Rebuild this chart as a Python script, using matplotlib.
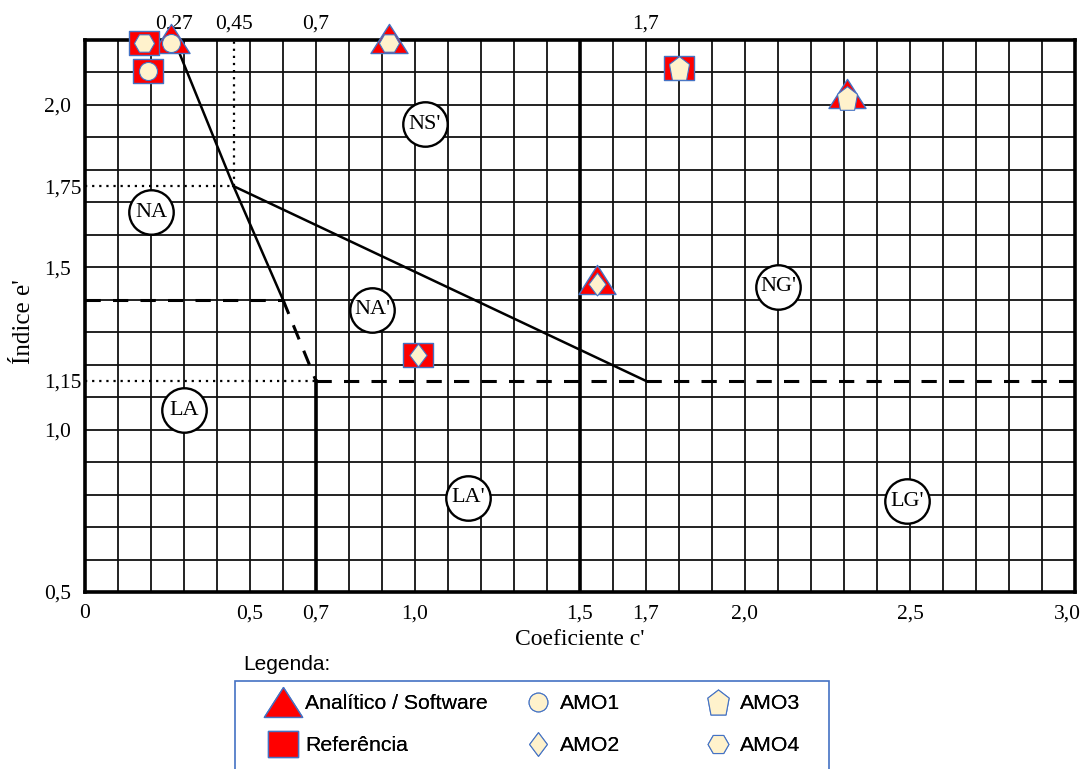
import numpy as np
import matplotlib
matplotlib.use("Agg")
import matplotlib.pyplot as plt
import matplotlib.path as mpath
import matplotlib.patches as mpatches
import matplotlib.transforms as mtrans
from matplotlib.lines import Line2D

# ---- data ----
samples = ['AMO1', 'AMO2', 'AMO3', 'AMO4']
ana_c = [0.26, 1.55, 2.31, 0.92]     # Analitico / Software
ana_e = [2.19, 1.45, 2.02, 2.19]
ref_c = [0.19, 1.01, 1.80, 0.18]     # Referencia
ref_e = [2.105, 1.23, 2.115, 2.19]

zone_names = ['NA', "NS'", "NA'", "NG'", 'LA', "LA'", "LG'"]
zone_c = [0.20, 1.03, 0.87, 2.10, 0.30, 1.16, 2.49]
zone_e = [1.67, 1.94, 1.37, 1.44, 1.06, 0.79, 0.78]

# zone boundaries
solid1_c, solid1_e = [0.27, 0.45, 0.6], [2.2, 1.75, 1.4]
solid2_c, solid2_e = [0.45, 1.7], [1.75, 1.15]
dash1_c, dash1_e = [0.0, 0.6], [1.4, 1.4]
dash2_c, dash2_e = [0.6, 0.7], [1.4, 1.15]
dash3_c, dash3_e = [0.7, 3.0], [1.15, 1.15]
vert1_c, vert1_e = [0.7, 0.7], [0.5, 1.15]
vert2_c, vert2_e = [1.5, 1.5], [0.5, 2.2]
dot1_c, dot1_e = [0.45, 0.45], [1.75, 2.2]
dot2_c, dot2_e = [0.0, 0.45], [1.75, 1.75]
dot3_c, dot3_e = [0.0, 0.7], [1.15, 1.15]

xticks = [0, 0.5, 0.7, 1.0, 1.5, 1.7, 2.0, 2.5, 3.0]
xlabels = ['0', '0,5', '0,7', '1,0', '1,5', '1,7', '2,0', '2,5', '3,0']
yticks = [0.5, 1.0, 1.15, 1.5, 1.75, 2.0]
ylabels = ['0,5', '1,0', '1,15', '1,5', '1,75', '2,0']
top_ticks = [0.27, 0.45, 0.7, 1.7]
top_labels = ['0,27', '0,45', '0,7', '1,7']


def poly(verts):
    return mpath.Path(verts + [verts[0]], closed=True)


tri_plot = poly([(-1, -0.54), (1, -0.54), (0, 1.03)])
tri_leg = poly([(-1, -0.78), (1, -0.78), (0, 0.78)])
rect = poly([(-1, -0.83), (1, -0.83), (1, 0.83), (-1, 0.83)])
diam = poly([(0, 1), (0.75, 0), (0, -1), (-0.75, 0)])
pent = poly([(0, 1), (0.85, 0.35), (0.6, -1), (-0.6, -1), (-0.85, 0.35)])
inner = {'AMO1': ('o', 13), 'AMO2': (diam, 16.5), 'AMO3': (pent, 17), 'AMO4': ('H', 14.5)}

red = '#FF0000'
blue = '#4472C4'
cream = '#FFF2CC'
serif = 'Liberation Serif'
sans = 'Liberation Sans'

fig = plt.figure(figsize=(10.83, 7.69), dpi=100)
ax = fig.add_axes([85 / 1083, 1 - 592 / 769, 990 / 1083, 552 / 769])
ax.set_xlim(0, 3.0)
ax.set_ylim(0.5, 2.2)

# grid of the original chart
for gx in np.arange(0.1, 3.0, 0.1):
    ax.axvline(gx, color='#111111', lw=1.3, zorder=1)
for gy in np.arange(0.6, 2.2, 0.1):
    ax.axhline(gy, color='#111111', lw=1.3, zorder=1)

for s in ax.spines.values():
    s.set_linewidth(2.6)

# boundaries
ax.plot(solid1_c, solid1_e, color='k', lw=1.8, zorder=3)
ax.plot(solid2_c, solid2_e, color='k', lw=1.8, zorder=3)
for cx, ey in [(dash1_c, dash1_e), (dash2_c, dash2_e), (dash3_c, dash3_e)]:
    ax.plot(cx, ey, color='k', lw=2.2, ls=(0, (5, 4)), zorder=3)
ax.plot(vert1_c, vert1_e, color='k', lw=2.6, zorder=3)
ax.plot(vert2_c, vert2_e, color='k', lw=2.6, zorder=3)
for cx, ey in [(dot1_c, dot1_e), (dot2_c, dot2_e), (dot3_c, dot3_e)]:
    ax.plot(cx, ey, color='k', lw=1.6, ls=(0, (1, 2.2)), zorder=3)

# zone circles
ax.plot(zone_c, zone_e, 'o', ms=32, mfc='white', mec='k', mew=1.7, ls='None', zorder=4)
for name, cx, ey in zip(zone_names, zone_c, zone_e):
    ax.text(cx, ey, name, ha='center', va='center', fontsize=16, family=serif, zorder=5)

# samples
for name, cx, ey in zip(samples, ana_c, ana_e):
    ax.plot(cx, ey, marker=tri_plot, ms=27.5, mfc=red, mec=blue, mew=1, ls='None',
            zorder=6, clip_on=False)
for name, cx, ey in zip(samples, ref_c, ref_e):
    ax.plot(cx, ey, marker=rect, ms=21.5, mfc=red, mec=blue, mew=1, ls='None',
            zorder=7, clip_on=False)
for name, cx, ey in zip(samples + samples, ana_c + ref_c, ana_e + ref_e):
    m, ms = inner[name]
    ax.plot(cx, ey, marker=m, ms=ms, mfc=cream, mec=blue, mew=0.8, ls='None',
            zorder=8, clip_on=False)

# ticks
ax.set_xticks(xticks, xlabels)
ax.set_yticks(yticks, ylabels)
ax.tick_params(length=0, labelsize=15.5)
ax.tick_params(axis='x', pad=9)
ax.tick_params(axis='y', pad=29.5)
for lbl in ax.get_xticklabels() + ax.get_yticklabels():
    lbl.set_family(serif)
for lbl in ax.get_yticklabels():
    lbl.set_ha('left')
last = ax.get_xticklabels()[-1]
last.set_transform(last.get_transform() + mtrans.ScaledTranslation(-0.08, 0, fig.dpi_scale_trans))

top = ax.secondary_xaxis('top')
top.set_xticks(top_ticks, top_labels)
top.tick_params(length=0, labelsize=15.5, pad=5)
top.spines['top'].set_visible(False)
for lbl in top.get_xticklabels():
    lbl.set_family(serif)

ax.set_xlabel("Coeficiente c'", fontsize=17, family=serif, labelpad=4)
ax.set_ylabel("Índice e'", fontsize=18, family=serif)
ax.yaxis.set_label_coords(-0.05, 0.49)

# legend: frame drawn separately, one legend per column
frame = mpatches.Rectangle((235 / 1083, -0.05), 594 / 1083, (769 - 681) / 769 + 0.05,
                           transform=fig.transFigure, fill=False, edgecolor=blue, lw=1.2)
fig.add_artist(frame)
fig.text(243 / 1083, 1 - 665 / 769, 'Legenda:', ha='left', va='center', fontsize=15, family=sans)

leg_handles = [
    Line2D([], [], marker=tri_leg, ms=27.5, mfc=red, mec=blue, mew=1, ls='None'),
    Line2D([], [], marker=rect, ms=22, mfc=red, mec=blue, mew=1, ls='None'),
    Line2D([], [], marker='o', ms=13.5, mfc=cream, mec=blue, mew=0.8, ls='None'),
    Line2D([], [], marker=diam, ms=17, mfc=cream, mec=blue, mew=0.8, ls='None'),
    Line2D([], [], marker=pent, ms=18, mfc=cream, mec=blue, mew=0.8, ls='None'),
    Line2D([], [], marker='H', ms=15, mfc=cream, mec=blue, mew=0.8, ls='None'),
]
leg_labels = ['Analítico / Software', 'Referência', 'AMO1', 'AMO2', 'AMO3', 'AMO4']
col_left = [268, 523, 703]
for i, x0 in enumerate(col_left):
    leg = fig.legend(leg_handles[2 * i:2 * i + 2], leg_labels[2 * i:2 * i + 2],
                     loc='upper left', bbox_to_anchor=(x0 / 1083, 1 - 694 / 769),
                     bbox_transform=fig.transFigure, frameon=False, borderaxespad=0,
                     borderpad=0, labelspacing=1.1, handlelength=1.4, handletextpad=0.33,
                     prop={'family': sans, 'size': 15.3})
    fig.add_artist(leg)

fig.savefig('out.png', dpi=100)
